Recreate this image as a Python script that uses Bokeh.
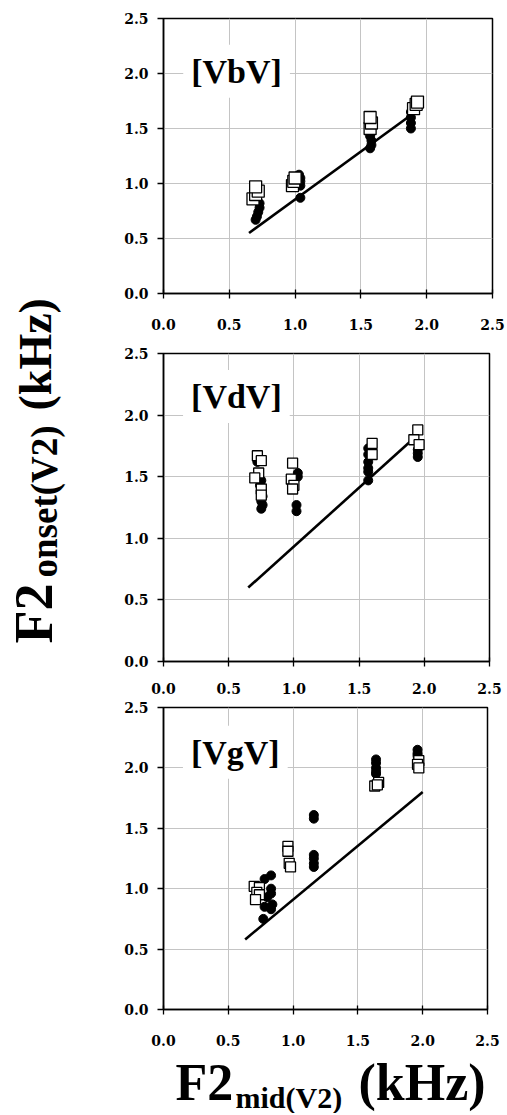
import math
from bokeh.plotting import figure
from bokeh.layouts import column, row
from bokeh.models import Label, Range1d, FixedTicker
from bokeh.embed import file_html
from bokeh.resources import INLINE
from bokeh.core.properties import value

# ---------------- data ----------------
ticks = [0.0, 0.5, 1.0, 1.5, 2.0, 2.5]
tick_labels = ["0.0", "0.5", "1.0", "1.5", "2.0", "2.5"]

# [VbV]
bv_sq_x = [0.68, 0.70, 0.72, 0.70, 0.98, 0.99, 1.00, 1.57, 1.58, 1.57, 1.90, 1.92, 1.93]
bv_sq_y = [0.86, 0.90, 0.93, 0.97, 0.98, 1.02, 1.05, 1.50, 1.55, 1.60, 1.68, 1.72, 1.74]
bv_ci_x = [0.70, 0.71, 0.72, 0.73, 0.73, 1.04, 1.04, 1.04, 1.04, 1.03,
           1.57, 1.58, 1.58, 1.57, 1.88, 1.88, 1.88, 1.88]
bv_ci_y = [0.67, 0.70, 0.74, 0.78, 0.82, 0.87, 0.98, 1.02, 1.05, 1.08,
           1.32, 1.35, 1.39, 1.43, 1.50, 1.55, 1.60, 1.65]
bv_line_x = [0.65, 1.97]
bv_line_y = [0.55, 1.70]

# [VdV]
dv_sq_x = [0.72, 0.75, 0.73, 0.70, 0.75, 0.75, 0.99, 0.98, 1.00, 0.99,
           1.60, 1.60, 1.95, 1.92, 1.96]
dv_sq_y = [1.67, 1.63, 1.53, 1.49, 1.40, 1.35, 1.61, 1.48, 1.43, 1.40,
           1.77, 1.68, 1.88, 1.80, 1.76]
dv_ci_x = [0.72, 0.75, 0.74, 0.75, 0.76, 0.75, 0.76, 0.75, 1.03, 1.03, 1.02, 1.02,
           1.57, 1.57, 1.57, 1.57, 1.57, 1.57, 1.95, 1.95, 1.95]
dv_ci_y = [1.62, 1.47, 1.43, 1.38, 1.34, 1.30, 1.27, 1.24, 1.53, 1.50, 1.27, 1.22,
           1.73, 1.68, 1.62, 1.57, 1.54, 1.47, 1.72, 1.69, 1.66]
dv_line_x = [0.65, 1.95]
dv_line_y = [0.60, 1.84]

# [VgV]
gv_sq_x = [0.70, 0.74, 0.72, 0.74, 0.71, 0.96, 0.96, 0.97, 0.98,
           1.63, 1.66, 1.65, 1.97, 1.96, 1.97]
gv_sq_y = [1.02, 1.01, 0.97, 0.95, 0.91, 1.35, 1.31, 1.21, 1.18,
           1.85, 1.88, 1.86, 2.06, 2.03, 2.00]
gv_ci_x = [0.83, 0.78, 0.83, 0.83, 0.80, 0.78, 0.83, 0.77, 0.84,
           1.16, 1.16, 1.16, 1.16, 1.16, 1.16,
           1.64, 1.64, 1.64, 1.64, 1.64, 1.96, 1.96, 1.96]
gv_ci_y = [1.11, 1.08, 1.00, 0.96, 0.93, 0.85, 0.83, 0.75, 0.87,
           1.61, 1.58, 1.28, 1.25, 1.21, 1.18,
           2.07, 2.04, 2.00, 1.97, 1.95, 2.15, 2.12, 2.10]
gv_line_x = [0.63, 2.00]
gv_line_y = [0.58, 1.80]

titles = ["[VbV]", "[VdV]", "[VgV]"]

# ---------------- styling helpers ----------------
TICK_FONT = "DejaVu Serif"
TITLE_FONT = "Liberation Serif"
LEFT_W = 66          # width of the y-title strip
BORDER_L = 97        # left border of each panel (frame starts at x=163)
ROW_W = LEFT_W + BORDER_L + 329 + 14


def make_panel(title, sq_x, sq_y, ci_x, ci_y, ln_x, ln_y,
               fw, top, fh, bottom, standoff, title_y, sq_size):
    p = figure(frame_width=fw, frame_height=fh,
               min_border_left=BORDER_L,
               min_border_right=ROW_W - LEFT_W - BORDER_L - fw,
               min_border_top=top, min_border_bottom=bottom,
               x_range=Range1d(0, 2.5), y_range=Range1d(0, 2.5),
               output_backend="svg", toolbar_location=None,
               background_fill_color="white", border_fill_color="white")
    for ax in (p.xaxis[0], p.yaxis[0]):
        ax.ticker = FixedTicker(ticks=ticks)
        ax.major_label_overrides = {t: l for t, l in zip(ticks, tick_labels)}
        ax.minor_tick_line_color = None
        ax.axis_line_width = 1.5
        ax.axis_line_color = "black"
        ax.major_tick_line_width = 1.3
        ax.major_tick_line_color = "black"
        ax.major_label_text_font = TICK_FONT
        ax.major_label_text_font_style = "bold"
        ax.major_label_text_font_size = "14px"
        ax.major_label_text_color = "black"
    p.xaxis.major_tick_out = 5
    p.xaxis.major_tick_in = 4
    p.xaxis.major_label_standoff = standoff
    p.yaxis.major_tick_out = 6
    p.yaxis.major_tick_in = 0
    p.yaxis.major_label_standoff = 9
    p.grid.grid_line_color = "#c4c4c4"
    p.grid.grid_line_width = 1
    p.outline_line_color = "black"
    p.outline_line_width = 1.5
    p.outline_line_alpha = 1.0

    p.line(ln_x, ln_y, line_color="black", line_width=2.6)
    p.scatter(ci_x, ci_y, marker="circle", size=9,
              fill_color="black", line_color="black", line_width=1)
    p.scatter(sq_x, sq_y, marker="square", size=sq_size,
              fill_color="white", line_color="black", line_width=1.3)

    p.add_layout(Label(x=0.15, y=title_y, text=title,
                       text_font=TITLE_FONT, text_font_style="bold",
                       text_font_size="34px", text_color="black",
                       text_baseline="middle", text_align="left",
                       background_fill_color="white",
                       background_fill_alpha=1.0, padding=8))
    return p


p1 = make_panel(titles[0], bv_sq_x, bv_sq_y, bv_ci_x, bv_ci_y, bv_line_x, bv_line_y,
                fw=329, top=18, fh=275, bottom=42, standoff=20, title_y=2.02, sq_size=12)
p2 = make_panel(titles[1], dv_sq_x, dv_sq_y, dv_ci_x, dv_ci_y, dv_line_x, dv_line_y,
                fw=326, top=18, fh=308, bottom=38, standoff=16, title_y=2.15, sq_size=10)
p3 = make_panel(titles[2], gv_sq_x, gv_sq_y, gv_ci_x, gv_ci_y, gv_line_x, gv_line_y,
                fw=324, top=8, fh=302, bottom=42, standoff=20, title_y=2.13, sq_size=10)

col_h = (18 + 275 + 42) + (18 + 308 + 38) + (8 + 302 + 42)

# ---------------- y-axis title (rotated, reads bottom to top) ----------------
ylab = figure(width=LEFT_W, height=col_h, x_range=Range1d(0, LEFT_W),
              y_range=Range1d(0, col_h), min_border=0,
              output_backend="svg", toolbar_location=None)
ylab.axis.visible = False
ylab.grid.visible = False
ylab.outline_line_color = None
ang = math.pi / 2
ylab.text(x=[33], y=[col_h - 643], text=["F2"], angle=ang,
          text_font=value(TITLE_FONT), text_font_style="bold",
          text_font_size="54px", text_align="left", text_baseline="middle",
          text_color="black")
ylab.text(x=[44], y=[col_h - 577], text=["onset(V2)"], angle=ang,
          text_font=value(TITLE_FONT), text_font_style="bold",
          text_font_size="37px", text_align="left", text_baseline="middle",
          text_color="black")
ylab.text(x=[35], y=[col_h - 410], text=["(kHz)"], angle=ang,
          text_font=value(TITLE_FONT), text_font_style="bold",
          text_font_size="46px", text_align="left", text_baseline="middle",
          text_color="black")

# ---------------- x-axis title ----------------
XL_H = 1113 - col_h
xlab = figure(width=ROW_W, height=XL_H, x_range=Range1d(0, ROW_W),
              y_range=Range1d(0, XL_H), min_border=0,
              output_backend="svg", toolbar_location=None)
xlab.axis.visible = False
xlab.grid.visible = False
xlab.outline_line_color = None
xlab.text(x=[175], y=[1113 - 1082], text=["F2"],
          text_font=value(TITLE_FONT), text_font_style="bold",
          text_font_size="52px", text_align="left", text_baseline="middle",
          text_color="black")
xlab.text(x=[235], y=[1113 - 1097], text=["mid(V2)"],
          text_font=value(TITLE_FONT), text_font_style="bold",
          text_font_size="30px", text_align="left", text_baseline="middle",
          text_color="black")
xlab.text(x=[358], y=[1113 - 1082], text=["(kHz)"],
          text_font=value(TITLE_FONT), text_font_style="bold",
          text_font_size="52px", text_align="left", text_baseline="middle",
          text_color="black")

layout = column(row(ylab, column(p1, p2, p3)), xlab)

open("out.html", "w").write(file_html(layout, INLINE))
